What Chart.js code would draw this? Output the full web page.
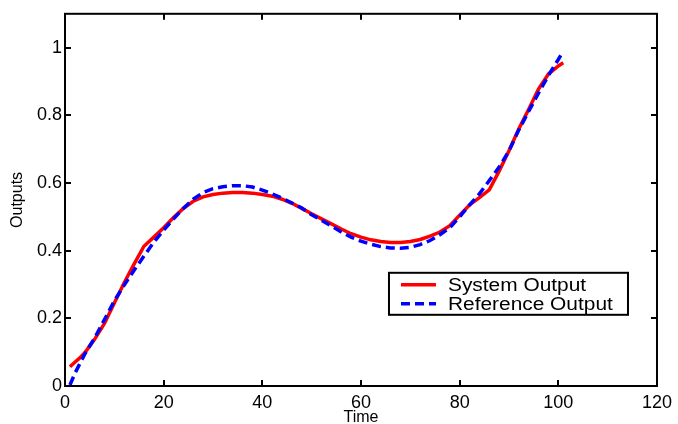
<!DOCTYPE html>
<html lang="en">
<head>
  <meta charset="UTF-8">
  <title>Outputs vs Time</title>
  <style>
    html, body { margin: 0; padding: 0; background: #fff; }
    #wrap { width: 678px; height: 424px; position: relative; }
  </style>
</head>
<body>
  <div id="wrap"><canvas id="outputs-chart"></canvas></div>

  <script src="https://cdn.jsdelivr.net/npm/chart.js"></script>
  <script>
    const timeValues = [1, 2, 3, 4, 6, 8, 10, 12, 14, 16, 18, 20, 22, 24, 26, 28, 30, 32, 34, 36,
      38, 40, 42, 44, 46, 48, 50, 52, 54, 56, 58, 60, 62, 64, 66, 68, 70, 72, 74, 76,
      78, 80, 82, 84, 86, 88, 90, 92, 94, 96, 98, 100, 101];
    const systemOutput = [0.057, 0.070, 0.083, 0.098, 0.138, 0.185, 0.245, 0.305, 0.360, 0.413,
      0.440, 0.468, 0.498, 0.525, 0.546, 0.559, 0.566, 0.570, 0.572, 0.572,
      0.570, 0.566, 0.561, 0.552, 0.540, 0.525, 0.509, 0.494, 0.479, 0.464,
      0.450, 0.440, 0.432, 0.427, 0.424, 0.424, 0.427, 0.433, 0.443, 0.455,
      0.474, 0.505, 0.535, 0.557, 0.580, 0.635, 0.695, 0.760, 0.818, 0.878,
      0.922, 0.946, 0.955];
    const referenceOutput = [0.003, 0.037, 0.066, 0.094, 0.142, 0.196, 0.252, 0.298, 0.342, 0.384,
      0.425, 0.461, 0.494, 0.525, 0.552, 0.572, 0.583, 0.589, 0.592, 0.592,
      0.588, 0.579, 0.568, 0.555, 0.541, 0.526, 0.506, 0.490, 0.473, 0.455,
      0.440, 0.428, 0.419, 0.412, 0.408, 0.407, 0.410, 0.418, 0.430, 0.447,
      0.468, 0.500, 0.535, 0.568, 0.607, 0.647, 0.695, 0.757, 0.812, 0.866,
      0.918, 0.965, 0.990];

    const xTickValues = [0, 20, 40, 60, 80, 100, 120];
    const yTickValues = [0, 0.2, 0.4, 0.6, 0.8, 1];
    const yTickLabels = ['0', '0.2', '0.4', '0.6', '0.8', '1'];
    const seriesNames = ['System Output', 'Reference Output'];

    const FONT = "'Liberation Sans', Arial, Helvetica, sans-serif";

    function toPoints(ys) {
      return timeValues.map((t, i) => ({ x: t, y: ys[i] }));
    }

    // box round the axes, ticks pointing inwards on all four sides
    const boxFrame = {
      id: 'boxFrame',
      afterDatasetsDraw(chart) {
        const { ctx, chartArea: a, scales } = chart;
        const len = 6;
        ctx.save();
        ctx.strokeStyle = '#000';
        ctx.lineWidth = 2;
        ctx.strokeRect(a.left, a.top, a.right - a.left, a.bottom - a.top);
        ctx.beginPath();
        scales.x.ticks.forEach(t => {
          const px = Math.round(scales.x.getPixelForValue(t.value));
          ctx.moveTo(px, a.bottom); ctx.lineTo(px, a.bottom - len);
          ctx.moveTo(px, a.top); ctx.lineTo(px, a.top + len);
        });
        scales.y.ticks.forEach(t => {
          const py = Math.round(scales.y.getPixelForValue(t.value));
          ctx.moveTo(a.left, py); ctx.lineTo(a.left + len, py);
          ctx.moveTo(a.right, py); ctx.lineTo(a.right - len, py);
        });
        ctx.stroke();
        ctx.restore();
      }
    };

    // legend drawn as a boxed inset, lower right of the plot
    const boxLegend = {
      id: 'boxLegend',
      afterDraw(chart) {
        const { ctx, chartArea: a } = chart;
        const w = 239, h = 42;
        const x0 = a.right - 29 - w;
        const y0 = a.top + 259;
        ctx.save();
        ctx.fillStyle = '#fff';
        ctx.fillRect(x0, y0, w, h);
        ctx.strokeStyle = '#000';
        ctx.lineWidth = 2;
        ctx.strokeRect(x0, y0, w, h);
        chart.data.datasets.forEach((ds, i) => {
          const y = y0 + 12 + i * 19;
          ctx.beginPath();
          ctx.setLineDash(ds.borderDash || []);
          ctx.strokeStyle = ds.borderColor;
          ctx.lineWidth = ds.borderWidth;
          ctx.moveTo(x0 + 12, y);
          ctx.lineTo(x0 + 47, y);
          ctx.stroke();
          ctx.setLineDash([]);
          ctx.save();
          ctx.translate(x0 + 59, y + 1);
          ctx.scale(1.16, 1);
          ctx.fillStyle = '#000';
          ctx.font = '18px ' + FONT;
          ctx.textBaseline = 'middle';
          ctx.fillText(ds.label, 0, 0);
          ctx.restore();
        });
        ctx.restore();
      }
    };

    new Chart(document.getElementById('outputs-chart'), {
      type: 'line',
      data: {
        datasets: [
          {
            label: seriesNames[0],
            data: toPoints(systemOutput),
            borderColor: '#ff0000',
            borderWidth: 3.5,
            pointRadius: 0,
            tension: 0,
            order: 2
          },
          {
            label: seriesNames[1],
            data: toPoints(referenceOutput),
            borderColor: '#0000ff',
            borderWidth: 3.5,
            borderDash: [9, 5],
            pointRadius: 0,
            tension: 0,
            order: 1
          }
        ]
      },
      options: {
        responsive: true,
        maintainAspectRatio: false,
        animation: false,
        layout: { padding: { left: 0, top: 13, right: 17, bottom: 0 } },
        plugins: { legend: { display: false }, tooltip: { enabled: false } },
        scales: {
          x: {
            type: 'linear',
            min: 0,
            max: 120,
            afterBuildTicks: s => { s.ticks = xTickValues.map(v => ({ value: v })); },
            afterFit: s => { s.height = 38; },
            grid: { display: false, drawTicks: false },
            border: { display: false },
            ticks: { color: '#000', font: { family: FONT, size: 18 }, padding: 6, maxRotation: 0, autoSkip: false },
            title: { display: true, text: 'Time', color: '#000', font: { family: FONT, size: 16 }, padding: { top: 0, bottom: -3 } }
          },
          y: {
            type: 'linear',
            min: 0,
            max: 1.1,
            afterBuildTicks: s => { s.ticks = yTickValues.map(v => ({ value: v })); },
            afterFit: s => { s.width = 65; },
            grid: { display: false, drawTicks: false },
            border: { display: false },
            ticks: {
              color: '#000',
              font: { family: FONT, size: 18 },
              padding: 3,
              autoSkip: false,
              callback: v => yTickLabels[yTickValues.indexOf(v)]
            },
            title: { display: true, text: 'Outputs', color: '#000', font: { family: FONT, size: 16 }, padding: { top: 8, bottom: 0 } }
          }
        }
      },
      plugins: [boxFrame, boxLegend]
    });
  </script>
</body>
</html>
